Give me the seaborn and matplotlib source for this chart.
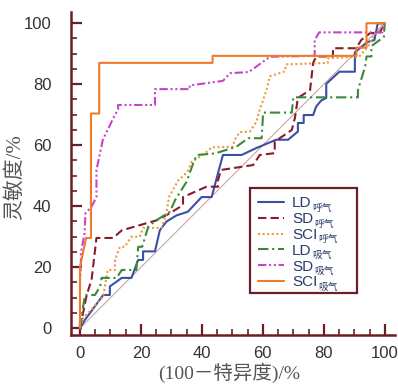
import numpy as np
import pandas as pd
import matplotlib
matplotlib.use("Agg")
import matplotlib.pyplot as plt
from matplotlib.patches import Rectangle
import seaborn as sns

# ROC-käyrien pisteet (x = 100 - spesifisyys, y = sensitiivisyys), luettu kuvasta
ld_ex_x = [0, 1.6, 7.6, 9.8, 9.8, 13.7, 16.9, 19.1, 20.7, 20.7, 24.6, 26.2, 28.4, 31.7, 35.4, 39.9, 43.2, 45.3, 46.9, 53, 57.9, 64.4, 68.3, 71.5, 71.5, 73.4, 73.4, 76.5, 77.5, 79.2, 80.8, 80.8, 85.1, 90.2, 90.2, 94.3, 96.6, 97.7, 100]
ld_ex_y = [0, 2.7, 10.9, 10.9, 13.7, 16.5, 16.5, 22.4, 22.4, 25.2, 25.2, 32.1, 35, 37, 38.2, 43, 43, 50.9, 56.8, 56.8, 59.1, 61.8, 61.8, 64.5, 67.3, 67.3, 69.9, 69.9, 72.7, 74.7, 75.5, 80.1, 84.1, 84.1, 90.5, 93.8, 94.5, 99.9, 100]

sd_ex_x = [0, 2.2, 3.8, 5.4, 10.9, 13.7, 25.2, 29.5, 33.8, 33.8, 41.5, 45.3, 45.3, 46.3, 56.8, 59, 63.9, 63.9, 69.5, 70.5, 71.5, 75.5, 76.5, 77.5, 83, 83, 90.6, 92.3, 95.1, 98.4, 100]
sd_ex_y = [0, 10.9, 15.9, 29.6, 29.6, 32.1, 35.4, 37.7, 40.4, 43, 46.4, 46.4, 48.6, 51.9, 53.5, 56.8, 57.4, 61.2, 65, 68.9, 75.5, 78.1, 87, 89.1, 89.1, 91.8, 91.8, 94.5, 96.7, 97, 100]

sci_ex_x = [0, 1, 4, 7.6, 9.1, 11.5, 11.5, 13.1, 14.7, 16.9, 19.6, 20.7, 26.8, 28.4, 29.2, 32.2, 35.2, 36.6, 41, 43.2, 50.1, 50.8, 52.4, 55.8, 57.9, 59, 61.2, 62.3, 67.2, 67.7, 81.3, 81.3, 91.6, 94.6, 96.6, 100]
sci_ex_y = [0, 3.4, 6.4, 10.3, 19.1, 19.1, 22.4, 26.7, 26.7, 30, 30, 32.9, 32.9, 37.7, 43, 48.4, 51.2, 54.5, 57.3, 59.3, 59.5, 61.8, 64.3, 64.5, 67.7, 71.7, 78.1, 82.6, 84.2, 86.5, 87, 88.5, 89, 92.5, 96.4, 100]

ld_in_x = [0, 1.6, 4.9, 6.6, 7.1, 12, 13.7, 18.5, 19.1, 20.4, 22.4, 24.6, 29.5, 31.2, 34.9, 37.2, 38.3, 44.3, 51.3, 55.2, 59.6, 60.1, 69.5, 70, 91.2, 91.2, 93.6, 94, 95.6, 95.6, 99.7, 100]
ld_in_y = [0, 10.9, 10.9, 13.7, 16.5, 16.5, 19.1, 19.1, 26.7, 26.7, 33.3, 35.1, 38.2, 42, 47.9, 54.2, 56.8, 57.3, 59.5, 62.3, 62.3, 70.7, 70.7, 75.7, 75.7, 78.1, 85.9, 89.1, 89.1, 92.5, 95.5, 100]

sd_in_x = [0, 0, 0.3, 0.3, 1.5, 1.8, 3.8, 5.4, 5.4, 7.5, 8.8, 11.5, 12.5, 12.5, 24.6, 24.6, 36, 36, 46.9, 49.2, 55.4, 62.3, 77, 77, 78.5, 99.2, 100]
sd_in_y = [0, 15.3, 20.2, 24.7, 31.1, 37.7, 39.9, 43, 51.9, 61.8, 64.5, 70, 71.7, 73.2, 73.2, 78.4, 78.4, 79.6, 81.1, 83.6, 84, 89, 89.3, 94.5, 97, 97, 100]

sci_in_x = [0, 0, 2, 3.6, 3.6, 6.3, 6.3, 43.5, 43.5, 90.7, 90.7, 94, 94, 100]
sci_in_y = [0, 20, 29.6, 29.6, 70.4, 70.4, 87, 87, 89.3, 89.3, 92, 92, 100, 100]

sarjat = [
    ("LD", "呼气", ld_ex_x, ld_ex_y, "#3a4fa8", "-"),
    ("SD", "呼气", sd_ex_x, sd_ex_y, "#8b1a2b", (0, (4, 2))),
    ("SCI", "呼气", sci_ex_x, sci_ex_y, "#eb9a45", (0, (1, 1.2))),
    ("LD", "吸气", ld_in_x, ld_in_y, "#3a8a3a", (0, (5, 1.8, 1, 1.8))),
    ("SD", "吸气", sd_in_x, sd_in_y, "#c545c8", (0, (4, 1.3, 1, 1.3, 1, 1.3))),
    ("SCI", "吸气", sci_in_x, sci_in_y, "#f07b2c", "-"),
]

sns.set_style("ticks")
plt.rcParams['font.family'] = ['Liberation Sans', 'Noto Sans CJK SC']

spine_c = "#6b1e24"
teksti_c = "#2b3a6b"
fig = plt.figure(figsize=(3.98, 3.85), dpi=100)
ax = fig.add_axes([0.178, 0.130, 0.814, 0.839])

# referenssiviiva
sns.lineplot(x=[0, 100], y=[0, 100], color="#c9a3aa", lw=0.8, ax=ax)

for nimi, ala, xs, ys, col, ls in sarjat:
    df = pd.DataFrame({"x": xs, "y": ys})
    sns.lineplot(data=df, x="x", y="y", sort=False, estimator=None, color=col,
                 lw=1.5, linestyle=ls, ax=ax, label=nimi)

ax.set_xlim(-3, 103.3)
ax.set_ylim(-2.2, 103.7)
ax.set_xticks(np.arange(0, 101, 20))
ax.set_yticks(np.arange(0, 101, 20))
ax.set_xticks(np.arange(0, 101, 5), minor=True)
ax.set_yticks(np.arange(0, 101, 5), minor=True)
ax.tick_params(which="major", direction="in", length=8, width=1.6, color=spine_c,
               labelsize=12, labelcolor="#333333")
ax.tick_params(which="minor", direction="in", length=4, width=1.2, color=spine_c)
ax.tick_params(axis="y", pad=14)
ax.tick_params(axis="x", pad=8)
for s in ["top", "right"]:
    ax.spines[s].set_visible(False)
for s in ["left", "bottom"]:
    ax.spines[s].set_color(spine_c)
    ax.spines[s].set_linewidth(1.8)

ax.set_xlabel("")
ax.set_ylabel("")
fig.text(0.576, 0.031, "(100－特异度)/%", ha="center", va="center", fontsize=14,
         color="#555555", family=['Liberation Serif', 'Noto Sans CJK SC'])
fig.text(0.038, 0.54, "灵敏度/%", ha="center", va="center", fontsize=15, rotation=90,
         color="#555555", family=['Liberation Serif', 'Noto Sans CJK SC'])

# legendan kehys piirretään erikseen, jotta alaindeksit mahtuvat
ax.add_patch(Rectangle((0.628, 0.239), 0.269, 0.273, transform=fig.transFigure,
                       facecolor="white", edgecolor=spine_c, lw=1.6, zorder=4.5, clip_on=False))
leg = ax.legend(loc="upper left", bbox_to_anchor=(0.628, 0.512), bbox_transform=fig.transFigure,
                borderaxespad=0, frameon=False, fontsize=11,
                handlelength=1.7, handletextpad=0.5, labelspacing=0.12, borderpad=0.55)

# alaindeksit (呼气 / 吸气) legendan tekstien perään
for t, (nimi, ala, *_rest) in zip(leg.get_texts(), sarjat):
    t.set_color(teksti_c)
    ax.annotate(ala, xy=(1, 0), xycoords=t, xytext=(0.5, -1.8), textcoords="offset points",
                fontsize=7, color=teksti_c, ha="left", va="bottom", zorder=6,
                family=['Noto Sans CJK SC'])

fig.savefig("out.png", dpi=100)
